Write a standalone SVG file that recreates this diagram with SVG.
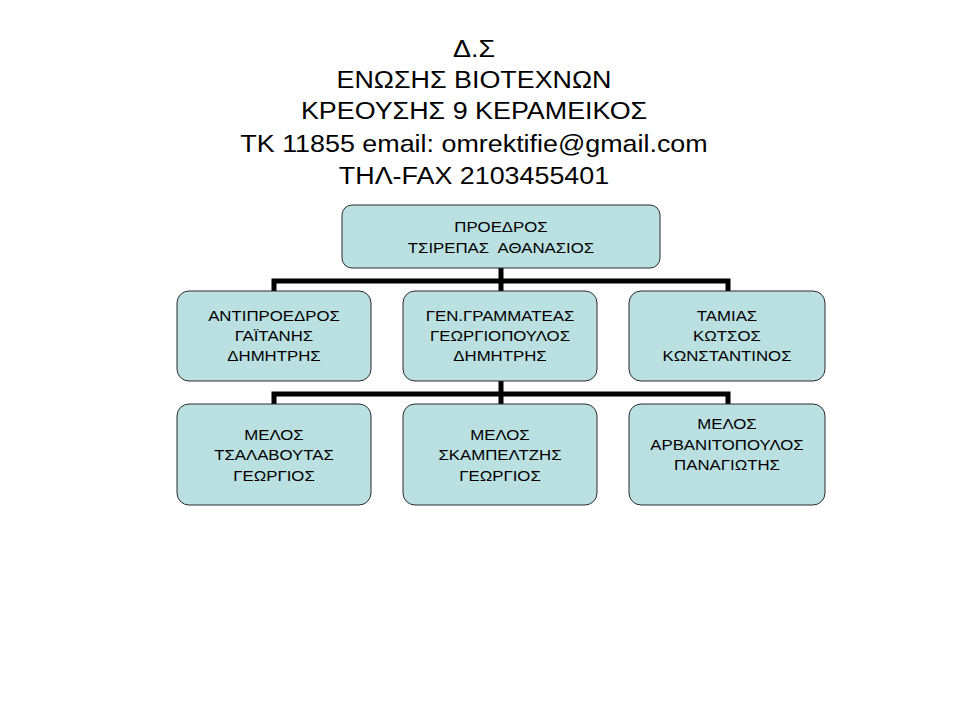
<svg xmlns="http://www.w3.org/2000/svg" width="960" height="720" viewBox="0 0 960 720">
<style>
.b{fill:#BAE0E2;stroke:#2a2a2a;stroke-width:1}
.t{font-family:"Liberation Sans",Arial,sans-serif;font-size:14px;fill:#000;text-anchor:middle}
.h{font-family:"Liberation Sans",Arial,sans-serif;font-size:24px;fill:#000;text-anchor:middle}
.c{fill:none;stroke:#000;stroke-width:5}
</style>
<rect width="960" height="720" fill="#fff"/>
<g id="title" transform="translate(474 0) scale(1.12 1)">
<text class="h" x="0" y="57">Δ.Σ</text>
<text class="h" x="0" y="88">ΕΝΩΣΗΣ ΒΙΟΤΕΧΝΩΝ</text>
<text class="h" x="0" y="119">ΚΡΕΟΥΣΗΣ 9 ΚΕΡΑΜΕΙΚΟΣ</text>
<text class="h" x="0" y="152">ΤΚ 11855 email: omrektifie@gmail.com</text>
<text class="h" x="0" y="184">ΤΗΛ-FAX 2103455401</text>
</g>
<g id="connectors">
<path class="c" d="M501 268V281M274 291V281H728V291M501 281V291"/>
<path class="c" d="M501 381V394M274 404V394H728V404M501 394V404"/>
</g>
<g id="n1"><rect class="b" x="342" y="205" width="318" height="63" rx="10"/>
<g transform="translate(501 0) scale(1.2 1)"><text class="t" x="0" y="232">ΠΡΟΕΔΡΟΣ</text><text class="t" x="0" y="253" xml:space="preserve">ΤΣΙΡΕΠΑΣ  ΑΘΑΝΑΣΙΟΣ</text></g></g>
<g id="n2"><rect class="b" x="177" y="291" width="194" height="90" rx="12"/>
<g transform="translate(274 0) scale(1.2 1)"><text class="t" x="0" y="321">ΑΝΤΙΠΡΟΕΔΡΟΣ</text><text class="t" x="0" y="341">ΓΑΪΤΑΝΗΣ</text><text class="t" x="0" y="361">ΔΗΜΗΤΡΗΣ</text></g></g>
<g id="n3"><rect class="b" x="403" y="291" width="194" height="90" rx="12"/>
<g transform="translate(500 0) scale(1.2 1)"><text class="t" x="0" y="321">ΓΕΝ.ΓΡΑΜΜΑΤΕΑΣ</text><text class="t" x="0" y="341">ΓΕΩΡΓΙΟΠΟΥΛΟΣ</text><text class="t" x="0" y="361">ΔΗΜΗΤΡΗΣ</text></g></g>
<g id="n4"><rect class="b" x="629" y="291" width="196" height="90" rx="12"/>
<g transform="translate(727 0) scale(1.2 1)"><text class="t" x="0" y="321">ΤΑΜΙΑΣ</text><text class="t" x="0" y="341">ΚΩΤΣΟΣ</text><text class="t" x="0" y="361">ΚΩΝΣΤΑΝΤΙΝΟΣ</text></g></g>
<g id="n5"><rect class="b" x="177" y="404" width="194" height="101" rx="12"/>
<g transform="translate(274 0) scale(1.2 1)"><text class="t" x="0" y="440">ΜΕΛΟΣ</text><text class="t" x="0" y="460">ΤΣΑΛΑΒΟΥΤΑΣ</text><text class="t" x="0" y="481">ΓΕΩΡΓΙΟΣ</text></g></g>
<g id="n6"><rect class="b" x="403" y="404" width="194" height="101" rx="12"/>
<g transform="translate(500 0) scale(1.2 1)"><text class="t" x="0" y="440">ΜΕΛΟΣ</text><text class="t" x="0" y="460">ΣΚΑΜΠΕΛΤΖΗΣ</text><text class="t" x="0" y="481">ΓΕΩΡΓΙΟΣ</text></g></g>
<g id="n7"><rect class="b" x="629" y="404" width="196" height="101" rx="12"/>
<g transform="translate(727 0) scale(1.2 1)"><text class="t" x="0" y="429">ΜΕΛΟΣ</text><text class="t" x="0" y="450">ΑΡΒΑΝΙΤΟΠΟΥΛΟΣ</text><text class="t" x="0" y="470">ΠΑΝΑΓΙΩΤΗΣ</text></g></g>
</svg>
